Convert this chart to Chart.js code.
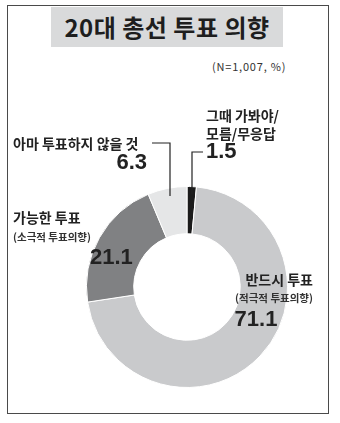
<!DOCTYPE html>
<html>
<head>
<meta charset="utf-8">
<script src="https://cdn.jsdelivr.net/npm/chart.js@4/dist/chart.umd.min.js"></script>
<style>
html, body { margin: 0; padding: 0; background: #fff; }
#wrap { position: relative; width: 340px; height: 423px; overflow: hidden; }
#frame { position: absolute; left: 7px; top: 5px; width: 322px; height: 409px; border: 1.5px solid #4a4a4a; box-sizing: border-box; }
#title { position: absolute; left: 51px; top: 7px; width: 232px; height: 40px; background: #d9dadb;
  font: bold 24px "Noto Sans CJK KR", sans-serif; line-height: 40px; text-align: center; color: #1e1e1e; letter-spacing: 0.5px; }
#note { position: absolute; left: 212px; top: 58px; font: 11px "Noto Sans CJK KR", sans-serif; color: #333; letter-spacing: 0.8px; }
canvas { position: absolute; left: 0; top: 0; }
</style>
</head>
<body>
<div id="wrap">
  <div id="frame"></div>
  <div id="title">20대 총선 투표 의향</div>
  <div id="note">(N=1,007, %)</div>
  <canvas id="donut" width="340" height="423"></canvas>
</div>
<script>
// data, clockwise from the top
const categories = ['그때 가봐야/\n모름/무응답', '반드시 투표', '가능한 투표', '아마 투표하지 않을 것'];
const subLabels = ['', '(적극적 투표의향)', '(소극적 투표의향)', ''];
const values = [1.5, 71.1, 21.1, 6.3];
const colors = ['#1b1b1b', '#c9cacc', '#808183', '#e5e6e7'];

// where each label sits (name lines, sub line, value, leader line)
const layout = [
    { x: 206, y: 116, align: 'left', vx: 206, vy: 152, valign: 'left', leader: [[203, 152], [192, 152]] },
    { x: 313, y: 280, align: 'right', sx: 313, sy: 298, vx: 256, vy: 320, valign: 'center' },
    { x: 13, y: 218, align: 'left', sx: 13, sy: 237, vx: 90, vy: 258, valign: 'left' },
    { x: 13, y: 144, align: 'left', vx: 147, vy: 163, valign: 'right', leader: [[152, 143], [170, 143]] },
];

const labelPlugin = {
    id: 'labels',
    afterDraw(chart) {
        const ctx = chart.ctx;
        const meta = chart.getDatasetMeta(0);
        ctx.save();
        ctx.fillStyle = '#222';
        ctx.textBaseline = 'middle';
        categories.forEach((name, i) => {
            const l = layout[i];
            ctx.font = 'bold 14px "Noto Sans CJK KR", sans-serif';
            ctx.textAlign = l.align;
            name.split('\n').forEach((line, k) => ctx.fillText(line, l.x, l.y + k * 18));
            if (subLabels[i]) {
                ctx.font = 'bold 10.5px "Noto Sans CJK KR", sans-serif';
                ctx.fillStyle = '#333';
                ctx.fillText(subLabels[i], l.sx, l.sy);
                ctx.fillStyle = '#222';
            }
            ctx.font = 'bold 22px "Liberation Sans", Arial, sans-serif';
            ctx.textAlign = l.valign;
            ctx.fillText(values[i].toFixed(1), l.vx, l.vy);
            if (l.leader) {
                // drop the leader into the slice's outer edge
                const arc = meta.data[i];
                const last = l.leader[l.leader.length - 1];
                const dy = Math.sqrt(Math.max(0, arc.outerRadius * arc.outerRadius - (last[0] - arc.x) ** 2));
                ctx.strokeStyle = '#222';
                ctx.lineWidth = 1.2;
                ctx.beginPath();
                ctx.moveTo(l.leader[0][0], l.leader[0][1]);
                l.leader.slice(1).forEach(p => ctx.lineTo(p[0], p[1]));
                ctx.lineTo(last[0], arc.y - dy + 8);
                ctx.stroke();
            }
        });
        ctx.restore();
    }
};

new Chart(document.getElementById('donut'), {
    type: 'doughnut',
    data: {
        labels: categories,
        datasets: [{
            data: values,
            backgroundColor: colors,
            borderColor: '#ffffff',
            borderWidth: 1,
        }],
    },
    options: {
        responsive: false,
        animation: false,
        cutout: '53%',
        layout: { padding: { left: 85, right: 51, top: 186, bottom: 35 } },
        plugins: { legend: { display: false }, tooltip: { enabled: false } },
    },
    plugins: [labelPlugin],
});
</script>
</body>
</html>
